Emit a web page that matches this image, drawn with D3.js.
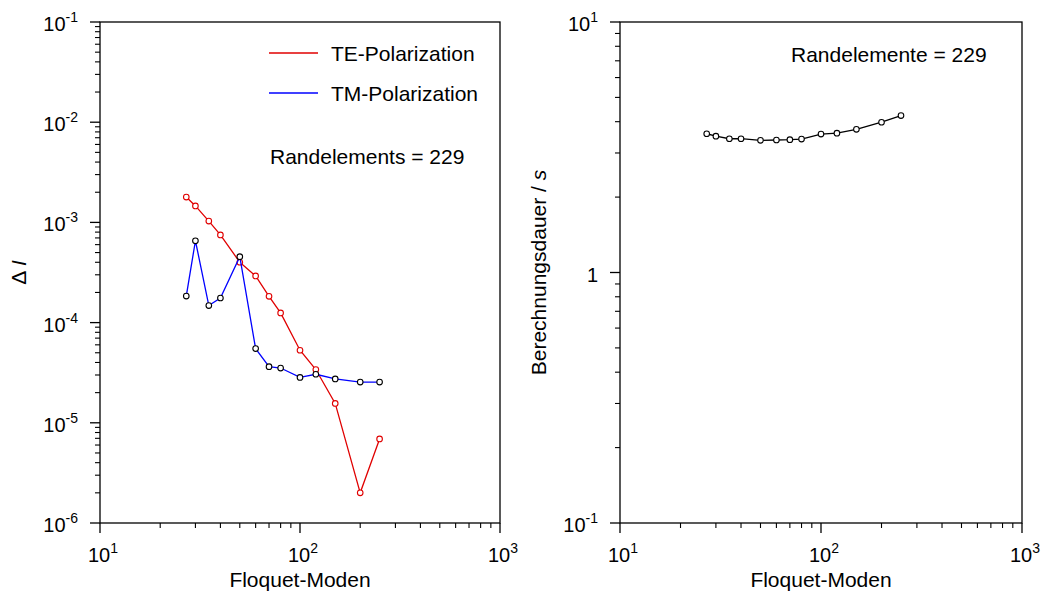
<!DOCTYPE html>
<html>
<head>
<meta charset="utf-8">
<script src="https://cdn.jsdelivr.net/npm/d3@7"></script>
<style>
  body { margin: 0; background: #fff; }
  svg { font-family: "Liberation Sans", Arial, sans-serif; }
  .frame { fill: none; stroke: #000; stroke-width: 1.3; }
  .tick-label { font-size: 20px; fill: #000; }
  .info { font-size: 21px; fill: #000; }
</style>
</head>
<body>
<svg width="1042" height="595"></svg>
<script>
// Floquet modes (x values, shared by all series)
const modes = [27, 30, 35, 40, 50, 60, 70, 80, 100, 120, 150, 200, 250];
// left plot: Delta I
const teValues = [1.79e-3, 1.46e-3, 1.03e-3, 7.5e-4, 4.0e-4, 2.92e-4, 1.83e-4, 1.25e-4, 5.3e-5, 3.4e-5, 1.56e-5, 2.0e-6, 6.9e-6];
const tmValues = [1.84e-4, 6.56e-4, 1.48e-4, 1.76e-4, 4.55e-4, 5.5e-5, 3.63e-5, 3.52e-5, 2.84e-5, 3.05e-5, 2.74e-5, 2.55e-5, 2.55e-5];
// right plot: computation time in seconds
const timeValues = [3.58, 3.5, 3.42, 3.42, 3.37, 3.38, 3.39, 3.41, 3.57, 3.6, 3.73, 3.98, 4.23];

const xDecades = [1, 2, 3];
const leftDecades = [-1, -2, -3, -4, -5, -6];
const rightDecades = [1, 0, -1];
const legendLabels = ["TE-Polarization", "TM-Polarization"];

const svg = d3.select("svg");

// label "10^e" as real text with a superscript
const powLabel = (sel, e, plainOne) => {
  if (plainOne && e === 0) {
    sel.text("1");
    return;
  }
  sel.append("tspan").text("10");
  sel.append("tspan").attr("dy", -9).attr("font-size", 14).text(e);
};

const minorValues = (lo, hi) => {
  const out = [];
  for (let e = lo; e < hi; e++) {
    for (let m = 2; m <= 9; m++) out.push(m * Math.pow(10, e));
  }
  return out;
};

const drawPanel = (opt) => {
  const { left, right, top, bottom, yLo, yHi, yDecades, yTitle, plainOne } = opt;
  const g = svg.append("g");
  const x = d3.scaleLog().domain([10, 1000]).range([left, right]);
  const y = d3.scaleLog().domain([Math.pow(10, yLo), Math.pow(10, yHi)]).range([bottom, top]);

  // frame
  g.append("rect")
    .attr("class", "frame")
    .attr("x", left)
    .attr("y", top)
    .attr("width", right - left)
    .attr("height", bottom - top);

  // x ticks
  const xMajor = xDecades.map((e) => Math.pow(10, e));
  g.selectAll(".xmaj")
    .data(xMajor)
    .enter()
    .append("line")
    .attr("x1", (d) => x(d))
    .attr("x2", (d) => x(d))
    .attr("y1", bottom)
    .attr("y2", bottom + 10)
    .attr("stroke", "#000")
    .attr("stroke-width", 1.3);
  g.selectAll(".xmin")
    .data(minorValues(1, 3))
    .enter()
    .append("line")
    .attr("x1", (d) => x(d))
    .attr("x2", (d) => x(d))
    .attr("y1", bottom)
    .attr("y2", bottom + 5)
    .attr("stroke", "#000")
    .attr("stroke-width", 1.1);
  xDecades.forEach((e) => {
    const t = g.append("text")
      .attr("class", "tick-label")
      .attr("x", x(Math.pow(10, e)) + 3)
      .attr("y", bottom + 39)
      .attr("text-anchor", "middle");
    powLabel(t, e, false);
  });

  // y ticks
  g.selectAll(".ymaj")
    .data(yDecades.map((e) => Math.pow(10, e)))
    .enter()
    .append("line")
    .attr("x1", left - 10)
    .attr("x2", left)
    .attr("y1", (d) => y(d))
    .attr("y2", (d) => y(d))
    .attr("stroke", "#000")
    .attr("stroke-width", 1.3);
  g.selectAll(".ymin")
    .data(minorValues(yLo, yHi))
    .enter()
    .append("line")
    .attr("x1", left - 5)
    .attr("x2", left)
    .attr("y1", (d) => y(d))
    .attr("y2", (d) => y(d))
    .attr("stroke", "#000")
    .attr("stroke-width", 1.1);
  yDecades.forEach((e) => {
    const t = g.append("text")
      .attr("class", "tick-label")
      .attr("x", left - 22)
      .attr("y", y(Math.pow(10, e)) + 9)
      .attr("text-anchor", "end");
    powLabel(t, e, plainOne);
  });

  // axis titles
  g.append("text")
    .attr("class", "info")
    .attr("x", (left + right) / 2)
    .attr("y", bottom + 64)
    .attr("text-anchor", "middle")
    .text("Floquet-Moden");
  const yt = g.append("text")
    .attr("class", "info")
    .attr("transform", `translate(${left - 74},${(top + bottom) / 2}) rotate(-90)`)
    .attr("text-anchor", "middle");
  yt.append("tspan").text(yTitle[0]);
  yt.append("tspan").attr("font-style", "italic").text(yTitle[1]);

  return { g, x, y };
};

const addSeries = (p, values, lineColor, markerColor) => {
  const pts = modes.map((m, i) => [m, values[i]]);
  const line = d3.line().x((d) => p.x(d[0])).y((d) => p.y(d[1]));
  p.g.append("path")
    .datum(pts)
    .attr("d", line)
    .attr("fill", "none")
    .attr("stroke", lineColor)
    .attr("stroke-width", 1.3);
  p.g.append("g")
    .selectAll("circle")
    .data(pts)
    .enter()
    .append("circle")
    .attr("cx", (d) => p.x(d[0]))
    .attr("cy", (d) => p.y(d[1]))
    .attr("r", 2.8)
    .attr("fill", "#fff")
    .attr("stroke", markerColor)
    .attr("stroke-width", 1.1);
};

const leftP = drawPanel({
  left: 100, right: 500, top: 22, bottom: 523,
  yLo: -6, yHi: -1, yDecades: leftDecades,
  yTitle: ["\u0394 ", "I"], plainOne: false,
});
const rightP = drawPanel({
  left: 620, right: 1022, top: 22, bottom: 523,
  yLo: -1, yHi: 1, yDecades: rightDecades,
  yTitle: ["Berechnungsdauer / ", "s"], plainOne: true,
});

addSeries(leftP, teValues, "#e00000", "#e00000");
addSeries(leftP, tmValues, "#0000ff", "#000");
addSeries(rightP, timeValues, "#000", "#000");

// legend
const legendColors = ["#e00000", "#0000ff"];
legendLabels.forEach((lab, i) => {
  const ly = 53 + i * 40;
  leftP.g.append("line")
    .attr("x1", 269).attr("x2", 318)
    .attr("y1", ly).attr("y2", ly)
    .attr("stroke", legendColors[i])
    .attr("stroke-width", 1.3);
  leftP.g.append("text")
    .attr("class", "info")
    .attr("x", 331)
    .attr("y", ly + 8)
    .text(lab);
});
leftP.g.append("text").attr("class", "info").attr("x", 270).attr("y", 164).text("Randelements = 229");
rightP.g.append("text").attr("class", "info").attr("x", 791).attr("y", 62).text("Randelemente = 229");
</script>
</body>
</html>
